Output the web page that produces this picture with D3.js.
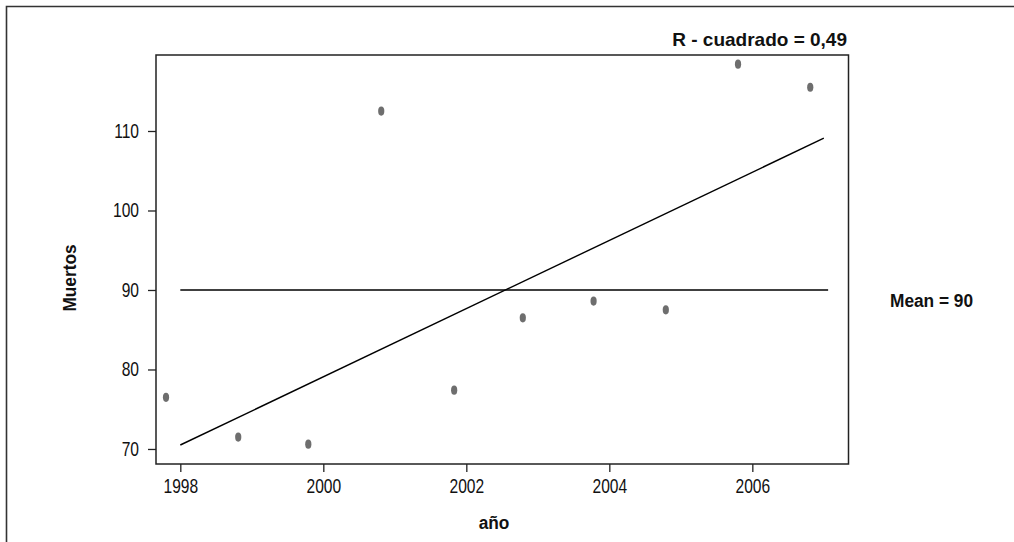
<!DOCTYPE html>
<html lang="es">
  <head>
    <meta charset="utf-8">
    <title>Muertos por año</title>
    <script src="https://d3js.org/d3.v7.min.js"></script>
    <style>
      html, body {
        margin: 0;
        padding: 0;
        background: #fff;
      }
      svg {
        display: block;
        font-family: "Liberation Sans", Arial, sans-serif;
      }
      .tick text {
        font-size: 19.5px;
        fill: #111;
      }
      .label {
        font-size: 19px;
        font-weight: bold;
        fill: #111;
      }
    </style>
  </head>
  <body>
    <svg id="chart" width="1014" height="542"></svg>

    <script>
      // observaciones
      var years = [1997.8, 1998.81, 1999.79, 2000.81, 2001.83, 2002.79, 2003.78, 2004.79, 2005.8, 2006.81];
      var muertos = [76.5, 71.5, 70.6, 112.5, 77.4, 86.5, 88.6, 87.5, 118.4, 115.5];

      // recta de regresión y media
      var fitYears = [1998, 2007];
      var fitValues = [70.5, 109.1];
      var meanYears = [1998, 2007.06];
      var meanValue = 90;

      var xTicks = [1998, 2000, 2002, 2004, 2006];
      var yTicks = [70, 80, 90, 100, 110];

      var rSquared = 'R - cuadrado = 0,49';
      var meanLabel = 'Mean = 90';

      var svg = d3.select('#chart');
      const plotLeft = 156, plotTop = 55, plotRight = 848.5, plotBottom = 464;
      const NARROW = 0.8;
      const SEMI = 0.91;

      var x = d3.scaleLinear().domain([1997.66, 2007.345]).range([plotLeft, plotRight]);
      var y = d3.scaleLinear().domain([68.11, 119.56]).range([plotBottom, plotTop]);

      // marco exterior (solo lados izquierdo y superior visibles)
      svg.append('path')
        .attr('d', 'M6.5,542 V6.5 H1014')
        .attr('fill', 'none')
        .attr('stroke', '#333')
        .attr('stroke-width', 1.6);

      // caja del gráfico
      svg.append('rect')
        .attr('x', plotLeft)
        .attr('y', plotTop)
        .attr('width', plotRight - plotLeft)
        .attr('height', plotBottom - plotTop)
        .attr('fill', 'none')
        .attr('stroke', '#222')
        .attr('stroke-width', 1.5);

      var xAxis = svg.append('g')
        .attr('transform', 'translate(0,' + plotBottom + ')')
        .call(d3.axisBottom(x).tickValues(xTicks).tickFormat(d3.format('d')).tickSize(8).tickPadding(7));

      var yAxis = svg.append('g')
        .attr('transform', 'translate(' + plotLeft + ',0)')
        .call(d3.axisLeft(y).tickValues(yTicks).tickFormat(d3.format('d')).tickSize(8).tickPadding(9));

      [xAxis, yAxis].forEach(function(ax) {
        ax.attr('font-family', null).attr('font-size', null);
        ax.select('.domain').remove();
        ax.selectAll('.tick line').attr('stroke', '#222').attr('stroke-width', 1.3);
      });

      // letra estrecha para las marcas
      xAxis.selectAll('.tick text')
        .attr('transform', 'scale(' + NARROW + ',1)');
      yAxis.selectAll('.tick text')
        .attr('x', -17 / NARROW)
        .attr('transform', 'scale(' + NARROW + ',1)');

      var line = d3.line().x(d => x(d[0])).y(d => y(d[1]));

      // línea de la media
      svg.append('path')
        .datum(meanYears.map(function(d) { return [d, meanValue]; }))
        .attr('d', line)
        .attr('fill', 'none')
        .attr('stroke', '#000')
        .attr('stroke-width', 1.4);

      // recta ajustada
      svg.append('path')
        .datum(fitYears.map(function(d, i) { return [d, fitValues[i]]; }))
        .attr('d', line)
        .attr('fill', 'none')
        .attr('stroke', '#000')
        .attr('stroke-width', 1.4);

      // puntos
      svg.append('g')
        .selectAll('ellipse')
        .data(years)
        .enter().append('ellipse')
          .attr('cx', function(d) { return x(d); })
          .attr('cy', function(d, i) { return y(muertos[i]); })
          .attr('rx', 3.1)
          .attr('ry', 4.6)
          .attr('fill', '#6e6e6e');

      // textos
      svg.append('text')
        .attr('class', 'label')
        .attr('x', 847)
        .attr('y', 45.5)
        .attr('text-anchor', 'end')
        .text(rSquared);

      svg.append('text')
        .attr('class', 'label')
        .attr('transform', 'translate(890,307) scale(' + SEMI + ',1)')
        .text(meanLabel);

      svg.append('text')
        .attr('class', 'label')
        .attr('transform', 'translate(494,529) scale(' + SEMI + ',1)')
        .attr('text-anchor', 'middle')
        .text('año');

      svg.append('text')
        .attr('class', 'label')
        .attr('transform', 'translate(76,278) rotate(-90) scale(' + SEMI + ',1)')
        .attr('text-anchor', 'middle')
        .text('Muertos');
    </script>
  </body>
</html>
